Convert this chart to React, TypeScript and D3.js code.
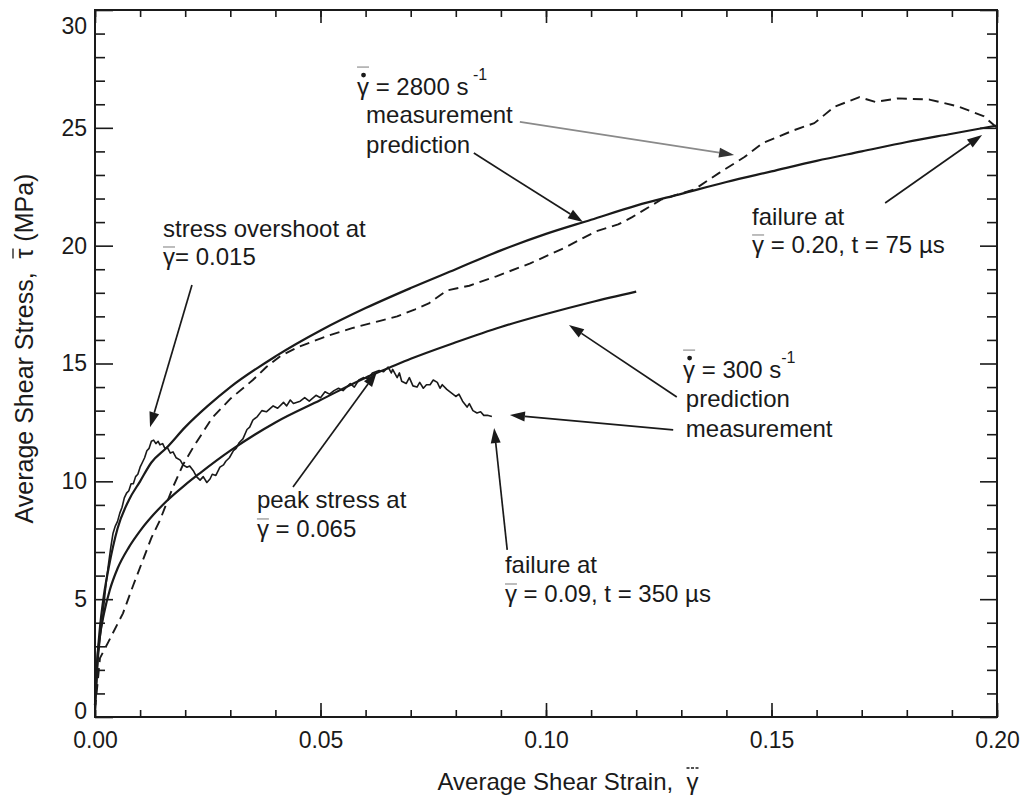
import React, { useRef, useEffect } from 'react';
import * as d3 from 'd3';

const WIDTH = 1023;
const HEIGHT = 798;
const margin = { top: 10, right: 26, bottom: 81, left: 95 };
const FONT = '"Liberation Sans", Arial, Helvetica, sans-serif';
const INK = '#1a1a1a';

// axis ticks
const strainTicks = [0, 0.05, 0.1, 0.15, 0.2];
const strainMinorTicks = [0, 0.01, 0.02, 0.03, 0.04, 0.05, 0.06, 0.07, 0.08, 0.09, 0.1, 0.11, 0.12, 0.13, 0.14, 0.15, 0.16, 0.17, 0.18, 0.19, 0.2];
const stressTicks = [0, 5, 10, 15, 20, 25, 30];
const stressMinorTicks = [1, 2, 3, 4, 6, 7, 8, 9, 11, 12, 13, 14, 16, 17, 18, 19, 21, 22, 23, 24, 26, 27, 28, 29];

// [strain, stress MPa]
const pred2800: [number, number][] = [
  [0, 0.5], [0.0005, 2.4], [0.001, 3.6], [0.002, 5.2], [0.003, 6.3], [0.005, 8.0], [0.0075, 9.2],
  [0.01, 10.0], [0.0125, 10.8], [0.016, 11.45], [0.02, 12.3], [0.025, 13.2], [0.03, 14.0],
  [0.04, 15.3], [0.05, 16.4], [0.06, 17.35], [0.07, 18.2], [0.08, 19.0], [0.09, 19.8],
  [0.1, 20.5], [0.11, 21.1], [0.12, 21.7], [0.13, 22.2], [0.14, 22.7], [0.15, 23.15],
  [0.16, 23.6], [0.17, 24.0], [0.18, 24.4], [0.19, 24.75], [0.2, 25.1],
];

const meas2800: [number, number][] = [
  [0, 0.3], [0.0011, 2.5], [0.003, 3.2], [0.0062, 4.4], [0.0085, 5.6], [0.0107, 6.7], [0.0125, 7.6],
  [0.0144, 8.35], [0.0173, 9.76], [0.0195, 10.7], [0.0218, 11.45], [0.026, 12.7], [0.03, 13.5],
  [0.035, 14.3], [0.038, 14.85], [0.041, 15.3], [0.045, 15.7], [0.052, 16.2], [0.057, 16.5],
  [0.063, 16.8], [0.067, 17.0], [0.071, 17.3], [0.074, 17.55], [0.078, 18.1], [0.083, 18.3],
  [0.089, 18.7], [0.0965, 19.25], [0.104, 19.9], [0.111, 20.6], [0.116, 20.9], [0.119, 21.2],
  [0.1255, 21.95], [0.133, 22.4], [0.1385, 23.1], [0.144, 23.76], [0.148, 24.35], [0.155, 24.9],
  [0.1595, 25.2], [0.164, 25.9], [0.1695, 26.3], [0.173, 26.1], [0.178, 26.25], [0.185, 26.2],
  [0.1915, 25.9], [0.197, 25.5], [0.2, 25.0],
];

const pred300: [number, number][] = [
  [0, 0.5], [0.0005, 2.4], [0.001, 3.3], [0.002, 4.4], [0.0033, 5.4], [0.005, 6.3], [0.0075, 7.2],
  [0.01, 7.9], [0.015, 9.0], [0.02, 9.85], [0.0233, 10.35], [0.03, 11.3], [0.04, 12.5],
  [0.05, 13.45], [0.06, 14.4], [0.065, 14.8], [0.07, 15.2], [0.08, 15.9], [0.09, 16.55],
  [0.1, 17.1], [0.11, 17.6], [0.12, 18.05],
];

const meas300: [number, number][] = [
  [0, 0.3], [0.0004, 1.5], [0.0007, 2.5], [0.0012, 3.5], [0.0018, 4.4], [0.0022, 5.2], [0.0026, 5.9],
  [0.003, 6.5], [0.0035, 7.2], [0.004, 7.8], [0.0045, 8.1], [0.005, 8.3], [0.0055, 8.65], [0.006, 8.9],
  [0.0065, 9.3], [0.007, 9.5], [0.0075, 9.6], [0.008, 9.9], [0.0085, 9.9], [0.009, 10.2], [0.0095, 10.3],
  [0.01, 10.6], [0.0105, 10.8], [0.011, 11.0], [0.0115, 11.3], [0.012, 11.4], [0.0125, 11.7],
  [0.013, 11.75], [0.0135, 11.6], [0.014, 11.7], [0.0144, 11.55], [0.015, 11.6], [0.0155, 11.4],
  [0.016, 11.45], [0.0167, 11.2], [0.0173, 11.25], [0.018, 11.0], [0.0189, 10.9], [0.0195, 10.7],
  [0.0204, 10.6], [0.021, 10.65], [0.0218, 10.45], [0.0225, 10.2], [0.0233, 10.05], [0.024, 10.2],
  [0.0248, 9.95], [0.0255, 10.1], [0.026, 10.3], [0.0268, 10.25], [0.0277, 10.6], [0.0285, 10.7],
  [0.029, 10.85], [0.0298, 11.0], [0.0307, 11.3], [0.0313, 11.4], [0.032, 11.65], [0.0328, 11.8],
  [0.0337, 12.2], [0.0343, 12.3], [0.035, 12.6], [0.036, 12.75], [0.037, 13.0], [0.038, 12.95],
  [0.0395, 13.2], [0.0405, 13.1], [0.0418, 13.35], [0.0425, 13.2], [0.0433, 13.45], [0.044, 13.3],
  [0.0455, 13.4], [0.0465, 13.55], [0.0475, 13.4], [0.049, 13.65], [0.05, 13.55], [0.051, 13.8],
  [0.052, 13.7], [0.053, 13.85], [0.054, 13.95], [0.055, 13.85], [0.0566, 14.15], [0.0575, 14.0],
  [0.0585, 14.3], [0.0595, 14.4], [0.0605, 14.35], [0.0615, 14.6], [0.063, 14.7], [0.064, 14.65],
  [0.065, 14.85], [0.0657, 14.6], [0.066, 14.75], [0.067, 14.4], [0.0675, 14.6], [0.068, 14.25],
  [0.069, 14.15], [0.0697, 14.4], [0.0705, 14.05], [0.0714, 14.0], [0.072, 14.2], [0.0728, 13.95],
  [0.0735, 14.1], [0.0743, 14.1], [0.075, 14.3], [0.0759, 14.2], [0.0765, 13.95], [0.077, 14.1],
  [0.078, 13.9], [0.079, 13.75], [0.08, 13.6], [0.0807, 13.7], [0.0815, 13.4], [0.0825, 13.15],
  [0.083, 13.3], [0.0838, 13.0], [0.0847, 12.9], [0.0855, 12.95], [0.0862, 12.8], [0.087, 12.8],
  [0.088, 12.75],
];

// annotation text lines, positioned in data units (strain, stress)
const noteLines = [
  { x: 0.0581, y: 26.39, text: 'γ = 2800 s', mark: 'dot', sup: ' -1' },
  { x: 0.0601, y: 25.2, text: 'measurement' },
  { x: 0.0601, y: 23.95, text: 'prediction' },
  { x: 0.01508, y: 20.37, text: 'stress overshoot at' },
  { x: 0.01508, y: 19.18, text: 'γ= 0.015', mark: 'bar' },
  { x: 0.0359, y: 8.87, text: 'peak stress at' },
  { x: 0.0359, y: 7.64, text: 'γ = 0.065', mark: 'bar' },
  { x: 0.0909, y: 6.11, text: 'failure at' },
  { x: 0.0909, y: 4.88, text: 'γ = 0.09, t = 350 µs', mark: 'bar' },
  { x: 0.1457, y: 20.88, text: 'failure at' },
  { x: 0.1457, y: 19.69, text: 'γ = 0.20, t = 75 µs', mark: 'bar' },
  { x: 0.1304, y: 14.38, text: 'γ =  300 s', mark: 'dot', sup: '-1' },
  { x: 0.131, y: 13.15, text: 'prediction' },
  { x: 0.131, y: 11.88, text: 'measurement' },
];

const noteArrows = [
  { from: [0.0942, 25.25], to: [0.1417, 23.85], color: '#8a8a8a' },
  { from: [0.084, 23.93], to: [0.1082, 21.0], color: INK },
  { from: [0.0215, 18.33], to: [0.0122, 12.3], color: INK },
  { from: [0.0439, 9.76], to: [0.0625, 14.64], color: INK },
  { from: [0.0914, 7.09], to: [0.0885, 12.26], color: INK },
  { from: [0.1752, 21.81], to: [0.1967, 24.7], color: INK },
  { from: [0.129, 13.58], to: [0.1051, 16.63], color: INK },
  { from: [0.1282, 12.18], to: [0.092, 12.81], color: INK },
];

const ShearChart = () => {
  const svgRef = useRef<SVGSVGElement>(null);

  useEffect(() => {
    const svg = d3.select(svgRef.current);
    svg.selectAll('*').remove();

    const x = d3.scaleLinear().domain([0, 0.2]).range([margin.left, WIDTH - margin.right]);
    const y = d3.scaleLinear().domain([0, 30]).range([HEIGHT - margin.bottom, margin.top]);
    const x0 = margin.left;
    const x1 = WIDTH - margin.right;
    const y0 = HEIGHT - margin.bottom;
    const y1 = margin.top;

    svg.append('rect').attr('width', WIDTH).attr('height', HEIGHT).attr('fill', '#fff');

    const styleAxis = (g: any) => {
      g.select('.domain').remove();
      g.selectAll('.tick line').attr('stroke', INK).attr('stroke-width', 1.6);
      g.selectAll('.tick text').attr('fill', INK).attr('font-family', FONT).attr('font-size', 23);
    };

    // minor ticks
    svg.append('g').attr('transform', `translate(0,${y0})`)
      .call(d3.axisBottom(x).tickValues(strainMinorTicks).tickSize(-7).tickFormat(() => ''))
      .call(styleAxis);
    svg.append('g').attr('transform', `translate(0,${y1})`)
      .call(d3.axisTop(x).tickValues(strainMinorTicks).tickSize(-7).tickFormat(() => ''))
      .call(styleAxis);
    svg.append('g').attr('transform', `translate(${x0},0)`)
      .call(d3.axisLeft(y).tickValues(stressMinorTicks).tickSize(-10).tickFormat(() => ''))
      .call(styleAxis);
    svg.append('g').attr('transform', `translate(${x1},0)`)
      .call(d3.axisRight(y).tickValues(stressMinorTicks).tickSize(-10).tickFormat(() => ''))
      .call(styleAxis);

    // major ticks
    svg.append('g').attr('transform', `translate(0,${y0})`)
      .call(d3.axisBottom(x).tickValues(strainTicks).tickSize(-14).tickPadding(15).tickFormat(d3.format('.2f')))
      .call(styleAxis);
    svg.append('g').attr('transform', `translate(0,${y1})`)
      .call(d3.axisTop(x).tickValues(strainTicks).tickSize(-13).tickFormat(() => ''))
      .call(styleAxis);
    const yAxisG = svg.append('g').attr('transform', `translate(${x0},0)`)
      .call(d3.axisLeft(y).tickValues(stressTicks).tickSize(-18).tickPadding(8).tickFormat(d3.format('d')))
      .call(styleAxis);
    // end labels nudged inside the page, as in the original figure
    yAxisG.selectAll('.tick text').attr('dy', (d: any) => (d === 30 ? '1.0em' : d === 0 ? '0.05em' : '0.32em'));
    svg.append('g').attr('transform', `translate(${x1},0)`)
      .call(d3.axisRight(y).tickValues(stressTicks).tickSize(-17).tickFormat(() => ''))
      .call(styleAxis);

    svg.append('rect')
      .attr('x', x0).attr('y', y1).attr('width', x1 - x0).attr('height', y0 - y1)
      .attr('fill', 'none').attr('stroke', INK).attr('stroke-width', 2);

    // curves
    const smooth = d3.line<[number, number]>().x((d) => x(d[0])).y((d) => y(d[1])).curve(d3.curveMonotoneX);
    const rough = d3.line<[number, number]>().x((d) => x(d[0])).y((d) => y(d[1]));

    const plot = svg.append('g').attr('fill', 'none').attr('stroke', INK).attr('stroke-linejoin', 'round');
    plot.append('path').attr('d', smooth(pred2800)).attr('stroke-width', 2.2);
    plot.append('path').attr('d', smooth(pred300)).attr('stroke-width', 2.2);
    plot.append('path').attr('d', rough(meas2800)).attr('stroke-width', 1.9).attr('stroke-dasharray', '10 6');
    plot.append('path').attr('d', rough(meas300)).attr('stroke-width', 1.6);

    // arrows
    noteArrows.forEach((a) => {
      const fx = x(a.from[0]);
      const fy = y(a.from[1]);
      const tx = x(a.to[0]);
      const ty = y(a.to[1]);
      const len = Math.hypot(tx - fx, ty - fy);
      const ux = (tx - fx) / len;
      const uy = (ty - fy) / len;
      const L = 15;
      const W = 5;
      const bx = tx - ux * L;
      const by = ty - uy * L;
      svg.append('line')
        .attr('x1', fx).attr('y1', fy).attr('x2', bx).attr('y2', by)
        .attr('stroke', a.color).attr('stroke-width', 1.7);
      svg.append('path')
        .attr('d', `M${tx},${ty}L${bx - uy * W},${by + ux * W}L${bx + uy * W},${by - ux * W}Z`)
        .attr('fill', a.color === INK ? INK : '#333');
    });

    // annotation text
    const notes = svg.append('g').attr('font-family', FONT).attr('font-size', 24).attr('fill', INK)
      .style('white-space', 'pre');
    noteLines.forEach((n) => {
      const t = notes.append('text').attr('x', x(n.x)).attr('y', y(n.y)).text(n.text);
      if (n.sup) {
        t.append('tspan').attr('dy', -15).attr('font-size', 16).text(n.sup);
      }
      if (n.mark) {
        const node = t.node() as SVGTextElement;
        const gx = x(n.x);
        const gw = node.getSubStringLength(0, 1);
        const base = y(n.y);
        if (n.mark === 'dot') {
          notes.append('circle').attr('cx', gx + gw / 2 + 0.5).attr('cy', base - 20).attr('r', 2.4);
          notes.append('line').attr('x1', gx).attr('x2', gx + gw).attr('y1', base - 28).attr('y2', base - 28)
            .attr('stroke', '#999').attr('stroke-width', 1.3);
        } else {
          notes.append('line').attr('x1', gx).attr('x2', gx + gw).attr('y1', base - 18).attr('y2', base - 18)
            .attr('stroke', '#999').attr('stroke-width', 1.3);
        }
      }
    });

    // axis titles
    const xTitle = 'Average Shear Strain,  γ';
    const xt = svg.append('text')
      .attr('x', 568).attr('y', 790).attr('text-anchor', 'middle').style('white-space', 'pre')
      .attr('font-family', FONT).attr('font-size', 24).attr('fill', INK).text(xTitle);
    const xNode = xt.node() as SVGTextElement;
    const xe = xNode.getExtentOfChar(xNode.getNumberOfChars() - 1);
    svg.append('line').attr('x1', xe.x).attr('x2', xe.x + xe.width).attr('y1', 768).attr('y2', 768)
      .attr('stroke', INK).attr('stroke-width', 1.3).attr('stroke-dasharray', '3 1.5');

    const yTitle = 'Average Shear Stress,  τ (MPa)';
    const yg = svg.append('g').attr('transform', `translate(33,${(y0 + y1) / 2 - 15}) rotate(-90)`);
    const yt = yg.append('text').attr('text-anchor', 'middle').style('white-space', 'pre')
      .attr('font-family', FONT).attr('font-size', 25).attr('fill', INK).text(yTitle);
    const yNode = yt.node() as SVGTextElement;
    const ti = Math.min(yTitle.indexOf('τ'), yNode.getNumberOfChars() - 1);
    const ye = yNode.getExtentOfChar(ti);
    yg.append('line').attr('x1', ye.x).attr('x2', ye.x + ye.width).attr('y1', -20).attr('y2', -20)
      .attr('stroke', INK).attr('stroke-width', 1.3);
  }, []);

  return (
    <svg ref={svgRef} width={WIDTH} height={HEIGHT}
      style={{ position: 'absolute', left: 0, top: 0, display: 'block' }} />
  );
};

export default function App() {
  return <ShearChart />;
}
